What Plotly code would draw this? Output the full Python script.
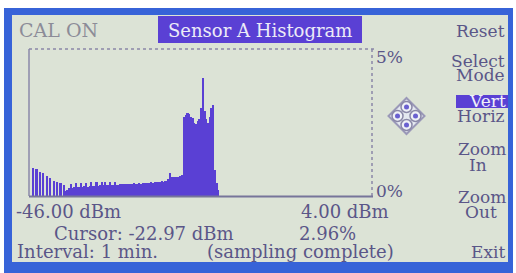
import plotly.graph_objects as go

# ---- data ----
bin_start_dbm = -46.0
bin_width_dbm = 0.25
hist_pct = [
    0.00, 0.00, 0.95, 0.00, 0.92, 0.00, 0.82, 0.00, 0.78, 0.00,
    0.68, 0.00, 0.61, 0.00, 0.51, 0.00, 0.48, 0.00, 0.44, 0.00,
    0.37, 0.18, 0.22, 0.28, 0.42, 0.28, 0.30, 0.43, 0.30, 0.32,
    0.44, 0.31, 0.33, 0.45, 0.32, 0.34, 0.47, 0.34, 0.35, 0.48,
    0.35, 0.36, 0.47, 0.36, 0.48, 0.37, 0.36, 0.49, 0.37, 0.38,
    0.47, 0.38, 0.39, 0.40, 0.40, 0.41, 0.40, 0.42, 0.41, 0.42,
    0.41, 0.43, 0.42, 0.42, 0.43, 0.42, 0.44, 0.43, 0.44, 0.45,
    0.44, 0.46, 0.45, 0.47, 0.48, 0.48, 0.49, 0.50, 0.49, 0.51,
    0.52, 0.58, 0.78, 0.66, 0.63, 0.64, 0.65, 0.66, 0.67, 0.70,
    2.70, 2.76, 2.81, 2.78, 2.70, 2.64, 2.50, 2.45, 2.55, 2.62,
    3.00, 4.02, 2.90, 2.62, 2.48, 2.70, 3.00, 3.10, 0.90, 0.45,
    0.20, 0.00,
]
x_min_dbm, x_max_dbm = -46.0, 4.0
y_max_pct = 5.0
x_labels = ["-46.00 dBm", "4.00 dBm"]
y_labels = ["5%", "0%"]
title_text = "Sensor A Histogram"
status_text = "CAL ON"
cursor_parts = ["Cursor: -22.97 dBm", "2.96%"]
interval_parts = ["Interval: 1 min.", "(sampling complete)"]
menu_items = ["Reset", "Select", "Mode", "Vert", "Horiz", "Zoom", "In", "Zoom", "Out", "Exit"]

# ---- style ----
W, H = 516, 273
L, R, T, B = 29, 372, 49, 196
LCD = "#dce3d6"
INK = "#5a5688"
PURPLE = "#5a40d4"
FRAME = "#3763d8"
AXIS = "#8a88a8"
FONT = "DejaVu Serif"
FS = 18


def px(x):
    return (x - L) / (R - L)


def py(y):
    return (B - y) / (B - T)


fig = go.Figure()
fig.add_trace(go.Bar(
    x0=bin_start_dbm + bin_width_dbm / 2, dx=bin_width_dbm, y=hist_pct,
    width=bin_width_dbm, marker=dict(color=PURPLE, line=dict(width=0)),
    hoverinfo="skip",
))

shapes = []


def rect(x0, y0, x1, y1, color, layer="below"):
    shapes.append(dict(type="rect", xref="paper", yref="paper", x0=px(x0), x1=px(x1), y0=py(y1), y1=py(y0),
                       fillcolor=color, line=dict(width=0), layer=layer))


def line(x0, y0, x1, y1, color, width, dash="solid"):
    shapes.append(dict(type="line", xref="paper", yref="paper", x0=px(x0), x1=px(x1), y0=py(y0), y1=py(y1),
                       line=dict(color=color, width=width, dash=dash)))


# blue frame and LCD face
rect(4, 8, 513, 273, FRAME)
rect(12, 15, 508, 262, LCD)
# title box and Vert highlight
rect(158, 16, 362, 43, PURPLE)
rect(456, 95, 508, 108, PURPLE)
# axes
line(L, B, L, T, AXIS, 1.5)
line(R, B, R, T, AXIS, 1.5, "dot")
line(L, T, R + 4, T, AXIS, 1.5, "dot")
line(L, B + 0.5, R + 1, B + 0.5, "#77759a", 2)
# diamond icon
cx, cy, r = 406.5, 116, 18
shapes.append(dict(type="path", xref="paper", yref="paper",
                   path=f"M {px(cx)} {py(cy - r)} L {px(cx + r)} {py(cy)} L {px(cx)} {py(cy + r)} L {px(cx - r)} {py(cy)} Z",
                   fillcolor="#e4e8f0", line=dict(color="#9a98b8", width=2)))
for dx_, dy_ in [(0, -9), (9, 0), (0, 9), (-9, 0)]:
    shapes.append(dict(type="circle", xref="paper", yref="paper",
                       x0=px(cx + dx_ - 5.5), x1=px(cx + dx_ + 5.5), y0=py(cy + dy_ + 5.5), y1=py(cy + dy_ - 5.5),
                       fillcolor="#eef0f6", line=dict(color="#8a88a8", width=1.5)))
    shapes.append(dict(type="circle", xref="paper", yref="paper",
                       x0=px(cx + dx_ - 2.5), x1=px(cx + dx_ + 2.5), y0=py(cy + dy_ + 2.5), y1=py(cy + dy_ - 2.5),
                       fillcolor="#6a60d0", line=dict(width=0)))

ann = []


def text(t, x, y, anchor="left", size=FS, color=INK):
    ann.append(dict(text=t, x=px(x), y=py(y), xref="paper", yref="paper", showarrow=False,
                    xanchor=anchor, yanchor="middle", font=dict(family=FONT, size=size, color=color)))


text(status_text, 17, 30, size=19, color="#8c8c98")
text(title_text, 260, 30, anchor="center", color="#ecebf7")
text(menu_items[0], 507, 31, anchor="right", size=17)
text(y_labels[0], 374, 57, size=17)
text(y_labels[1], 374, 191, size=17)
text(menu_items[1], 507, 61, anchor="right", size=17)
text(menu_items[2], 507, 75, anchor="right", size=17)
text(menu_items[3], 508, 101, anchor="right", size=17, color="#f0f0fa")
text(menu_items[4], 507, 116, anchor="right", size=17)
text(menu_items[5], 508, 149, anchor="right", size=17)
text(menu_items[6], 478, 165, anchor="center", size=17)
text(menu_items[7], 508, 197, anchor="right", size=17)
text(menu_items[8], 481, 212, anchor="center", size=17)
text(menu_items[9], 507, 252, anchor="right", size=17)
text(x_labels[0], 14, 212)
text(x_labels[1], 391, 212, anchor="right")
text(cursor_parts[0], 52, 233)
text(cursor_parts[1], 297, 233)
text(interval_parts[0], 15, 251)
text(interval_parts[1], 396, 251, anchor="right")

fig.update_layout(
    width=W, height=H,
    margin=dict(l=L, r=W - R, t=T, b=H - B, pad=0),
    paper_bgcolor="white", plot_bgcolor=LCD,
    showlegend=False, bargap=0,
    xaxis=dict(range=[x_min_dbm, x_max_dbm], visible=False, fixedrange=True),
    yaxis=dict(range=[0, y_max_pct], visible=False, fixedrange=True),
    shapes=shapes, annotations=ann,
)
fig.write_html("out.html", config={"displayModeBar": False},
               post_script="document.body.style.margin='0';")
